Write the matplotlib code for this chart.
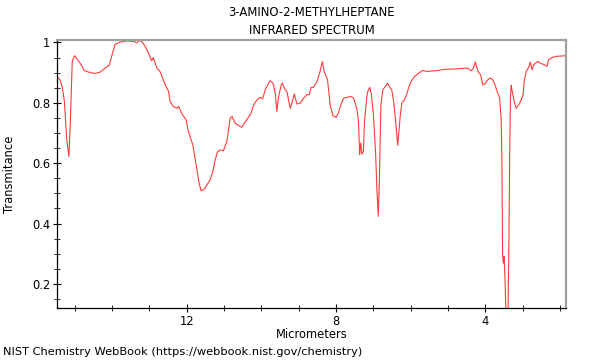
import matplotlib
matplotlib.use("Agg")
import matplotlib.pyplot as plt
from matplotlib.ticker import MultipleLocator, FuncFormatter

title = "3-AMINO-2-METHYLHEPTANE\nINFRARED SPECTRUM"
x_label = "Micrometers"
y_label = "Transmitance"
footer = "NIST Chemistry WebBook (https://webbook.nist.gov/chemistry)"

micrometers = [
    15.47, 15.40, 15.34, 15.28, 15.22, 15.16, 15.12, 15.07, 15.01, 14.92,
    14.83, 14.75, 14.64, 14.46, 14.32, 14.19, 14.08, 13.99, 13.92, 13.79,
    13.61, 13.43, 13.34, 13.25, 13.13, 13.03, 12.94, 12.90, 12.80, 12.72,
    12.58, 12.49, 12.45, 12.36, 12.27, 12.22, 12.13, 12.02, 11.96, 11.84,
    11.75, 11.68, 11.62, 11.55, 11.46, 11.38, 11.30, 11.24, 11.18, 11.11,
    11.02, 10.93, 10.90, 10.84, 10.79, 10.71, 10.62, 10.53, 10.46, 10.35,
    10.28, 10.21, 10.12, 10.03, 9.97, 9.90, 9.83, 9.77, 9.69, 9.63,
    9.59, 9.54, 9.47, 9.44, 9.38, 9.32, 9.23, 9.17, 9.12, 9.05,
    8.96, 8.87, 8.78, 8.72, 8.67, 8.61, 8.51, 8.43, 8.37, 8.32,
    8.23, 8.16, 8.09, 8.00, 7.94, 7.89, 7.80, 7.71, 7.62, 7.53,
    7.44, 7.40, 7.37, 7.34, 7.31, 7.27, 7.24, 7.19, 7.16, 7.10,
    7.06, 7.00, 6.94, 6.91, 6.87, 6.84, 6.80, 6.75, 6.68, 6.62,
    6.55, 6.51, 6.46, 6.42, 6.35, 6.28, 6.24, 6.17, 6.10, 6.06,
    5.99, 5.90, 5.79, 5.68, 5.57, 5.34, 5.07, 4.81, 4.49, 4.38,
    4.32, 4.27, 4.20, 4.13, 4.07, 4.00, 3.94, 3.87, 3.80, 3.73,
    3.67, 3.62, 3.58, 3.56, 3.54, 3.52, 3.50, 3.47, 3.44, 3.40,
    3.37, 3.35, 3.33, 3.31, 3.29, 3.24, 3.18, 3.11, 3.05, 2.99,
    2.96, 2.91, 2.84, 2.80, 2.75, 2.71, 2.60, 2.53, 2.44, 2.35,
    2.31, 2.22, 2.09, 1.85,
]
transmittance = [
    0.887, 0.876, 0.854, 0.805, 0.683, 0.622, 0.738, 0.937, 0.956, 0.942,
    0.926, 0.907, 0.902, 0.897, 0.902, 0.915, 0.924, 0.965, 0.994, 1.001,
    1.005, 1.003, 0.999, 1.008, 0.990, 0.965, 0.939, 0.950, 0.915, 0.904,
    0.860, 0.838, 0.805, 0.788, 0.782, 0.788, 0.763, 0.744, 0.705, 0.661,
    0.595, 0.540, 0.509, 0.512, 0.528, 0.545, 0.573, 0.611, 0.637, 0.644,
    0.641, 0.672, 0.694, 0.749, 0.755, 0.733, 0.725, 0.719, 0.733, 0.752,
    0.766, 0.793, 0.810, 0.818, 0.813, 0.843, 0.860, 0.873, 0.865, 0.832,
    0.771, 0.821, 0.860, 0.865, 0.846, 0.838, 0.782, 0.805, 0.829, 0.796,
    0.799, 0.816, 0.827, 0.827, 0.851, 0.851, 0.871, 0.904, 0.937, 0.904,
    0.876, 0.793, 0.758, 0.752, 0.766, 0.788, 0.816, 0.818, 0.821, 0.816,
    0.777, 0.738, 0.628, 0.667, 0.630, 0.639, 0.738, 0.805, 0.835, 0.851,
    0.832, 0.760, 0.628, 0.518, 0.424, 0.551, 0.793, 0.843, 0.854, 0.865,
    0.849, 0.843, 0.805, 0.758, 0.659, 0.760, 0.799, 0.810, 0.832, 0.849,
    0.871, 0.887, 0.898, 0.907, 0.904, 0.906, 0.911, 0.912, 0.915, 0.906,
    0.915, 0.935, 0.904, 0.893, 0.860, 0.864, 0.876, 0.882, 0.876, 0.854,
    0.832, 0.816, 0.749, 0.628, 0.297, 0.269, 0.291, 0.197, 0.050, 0.050,
    0.352, 0.628, 0.816, 0.858, 0.843, 0.810, 0.782, 0.793, 0.807, 0.827,
    0.871, 0.904, 0.917, 0.935, 0.909, 0.926, 0.937, 0.931, 0.927, 0.921,
    0.942, 0.950, 0.954, 0.956,
]

fig = plt.figure(figsize=(6, 3.6), dpi=100)
ax = fig.add_axes([0.0955, 0.1453, 0.8473, 0.7436])
ax.plot(micrometers, transmittance, color="#ff3b3b", linewidth=0.8)

ax.set_xlim(15.47, 1.85)
ax.set_ylim(0.1215, 1.008)

ax.xaxis.set_major_locator(MultipleLocator(4))
ax.xaxis.set_minor_locator(MultipleLocator(1))
ax.yaxis.set_major_locator(MultipleLocator(0.2))
ax.yaxis.set_minor_locator(MultipleLocator(0.05))
ax.yaxis.set_major_formatter(FuncFormatter(lambda v, p: f"{v:g}"))

ax.tick_params(which="major", direction="inout", length=6, width=0.8, labelsize=8.3, pad=2)
ax.tick_params(which="minor", direction="inout", length=4, width=0.6)
ax.tick_params(axis="x", which="both", top=False)
ax.tick_params(axis="y", which="both", right=False)

for side in ("top", "right"):
    ax.spines[side].set_color("#a0a0a0")
    ax.spines[side].set_linewidth(1.6)
for side in ("left", "bottom"):
    ax.spines[side].set_color("black")
    ax.spines[side].set_linewidth(0.9)

ax.set_xlabel(x_label, fontsize=8.3, labelpad=0)
ax.set_ylabel(y_label, fontsize=8.3)
ax.yaxis.set_label_coords(-0.081, 0.5)
ax.set_title(title, fontsize=8.4, linespacing=1.5, pad=4)

fig.text(0.005, 0.022, footer, fontsize=8.2, ha="left", va="center")

fig.savefig("out.png", dpi=100)
